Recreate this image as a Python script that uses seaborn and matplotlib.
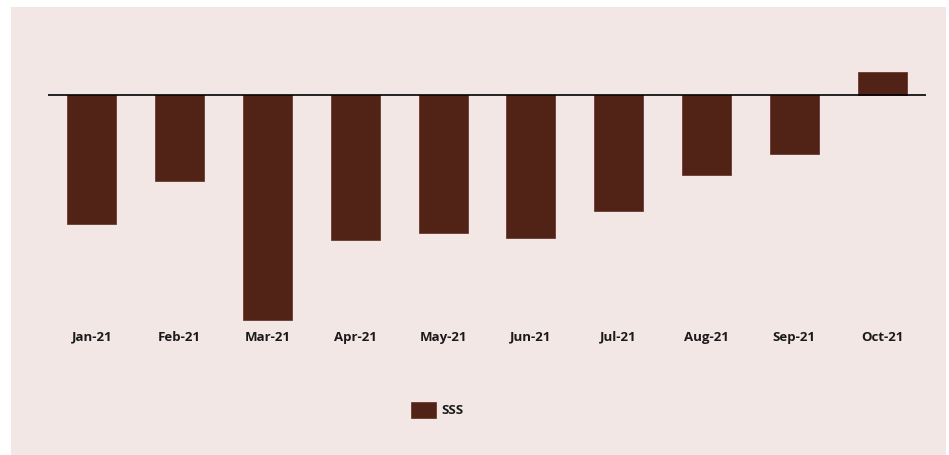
import matplotlib
matplotlib.use("Agg")
import matplotlib.pyplot as plt
import seaborn as sns
import pandas as pd
from matplotlib.patches import Rectangle

months = ["Jan-21", "Feb-21", "Mar-21", "Apr-21", "May-21", "Jun-21",
          "Jul-21", "Aug-21", "Sep-21", "Oct-21"]
sss = [-12.9, -8.6, -22.5, -14.5, -13.8, -14.3, -11.6, -8.0, -5.9, 2.3]

bg = "#F3E7E5"
bar_color = "#512216"

sns.set_theme(style="white")
plt.rcParams["font.family"] = ["Open Sans", "DejaVu Sans"]

fig = plt.figure(figsize=(9.49, 4.55), dpi=100, facecolor="white")
fig.patches.append(Rectangle((11 / 949, 0), (946 - 11) / 949, (455 - 7) / 455,
                             transform=fig.transFigure, facecolor=bg,
                             edgecolor="none", zorder=-10))
ax = fig.add_axes([48 / 949, (455 - 325) / 455, (926 - 48) / 949, (325 - 50) / 455])
ax.set_zorder(1)
ax.set_facecolor("none")
ax.patch.set_alpha(0)

df = pd.DataFrame({"Month": months, "SSS": sss})
sns.barplot(data=df, x="Month", y="SSS", color=bar_color, width=0.56,
            edgecolor="#6b3a30", linewidth=0.6, ax=ax, label="SSS",
            saturation=1)

ax.set_xlim(-0.5, len(months) - 0.5)
ax.set_ylim(-23.0, 4.5)
ax.axhline(0, color="black", linewidth=1.2, zorder=3)
for s in ax.spines.values():
    s.set_visible(False)
ax.set_yticks([])
ax.set_xlabel("")
ax.set_ylabel("")
ax.tick_params(axis="x", length=0, pad=4)
for lbl in ax.get_xticklabels():
    lbl.set_fontweight("bold")
    lbl.set_fontsize(9.5)
    lbl.set_color("#1a1a1a")

leg = ax.legend(loc="center", bbox_to_anchor=(437 / 949, (455 - 410) / 455),
                bbox_transform=fig.transFigure, frameon=False,
                handlelength=1.9, handleheight=1.5, handletextpad=0.4,
                prop={"weight": "bold", "size": 9.5})
for t in leg.get_texts():
    t.set_color("#1a1a1a")

fig.savefig("out.png", dpi=100, facecolor="white")
